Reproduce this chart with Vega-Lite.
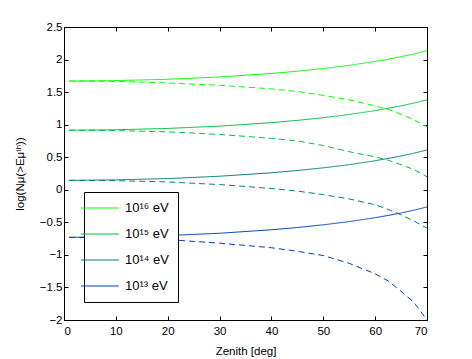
{
  "$schema": "https://vega.github.io/schema/vega-lite/v6.json",
  "width": 363,
  "height": 293,
  "autosize": {"type": "none"},
  "padding": {"left": 64, "top": 27, "right": 45, "bottom": 39},
  "background": "white",
  "config": {
    "view": {"stroke": null},
    "font": "Liberation Sans",
    "axis": {
      "grid": false,
      "domainColor": "black",
      "tickColor": "black",
      "labelColor": "black",
      "titleColor": "black",
      "labelFont": "Liberation Sans",
      "titleFont": "Liberation Sans",
      "labelFontSize": 11.5,
      "titleFontSize": 11.5,
      "titleFontWeight": "normal",
      "tickSize": -4,
      "labelPadding": 5
    }
  },
  "data": {
    "values": [
      {"z":1,"v":1.67,"e":"10¹⁶ eV","k":"s"},{"z":10,"v":1.677,"e":"10¹⁶ eV","k":"s"},{"z":20,"v":1.697,"e":"10¹⁶ eV","k":"s"},{"z":30,"v":1.733,"e":"10¹⁶ eV","k":"s"},{"z":40,"v":1.786,"e":"10¹⁶ eV","k":"s"},{"z":45,"v":1.821,"e":"10¹⁶ eV","k":"s"},{"z":50,"v":1.862,"e":"10¹⁶ eV","k":"s"},{"z":55,"v":1.911,"e":"10¹⁶ eV","k":"s"},{"z":60,"v":1.971,"e":"10¹⁶ eV","k":"s"},{"z":62.5,"v":2.004,"e":"10¹⁶ eV","k":"s"},{"z":65,"v":2.044,"e":"10¹⁶ eV","k":"s"},{"z":67.5,"v":2.087,"e":"10¹⁶ eV","k":"s"},{"z":70,"v":2.136,"e":"10¹⁶ eV","k":"s"},
      {"z":1,"v":1.67,"e":"10¹⁶ eV","k":"d"},{"z":10,"v":1.665,"e":"10¹⁶ eV","k":"d"},{"z":20,"v":1.64,"e":"10¹⁶ eV","k":"d"},{"z":30,"v":1.605,"e":"10¹⁶ eV","k":"d"},{"z":40,"v":1.55,"e":"10¹⁶ eV","k":"d"},{"z":45,"v":1.51,"e":"10¹⁶ eV","k":"d"},{"z":50,"v":1.45,"e":"10¹⁶ eV","k":"d"},{"z":55,"v":1.38,"e":"10¹⁶ eV","k":"d"},{"z":60,"v":1.29,"e":"10¹⁶ eV","k":"d"},{"z":62.5,"v":1.235,"e":"10¹⁶ eV","k":"d"},{"z":65,"v":1.16,"e":"10¹⁶ eV","k":"d"},{"z":67.5,"v":1.075,"e":"10¹⁶ eV","k":"d"},{"z":70,"v":0.97,"e":"10¹⁶ eV","k":"d"},
      {"z":1,"v":0.915,"e":"10¹⁵ eV","k":"s"},{"z":10,"v":0.922,"e":"10¹⁵ eV","k":"s"},{"z":20,"v":0.942,"e":"10¹⁵ eV","k":"s"},{"z":30,"v":0.978,"e":"10¹⁵ eV","k":"s"},{"z":40,"v":1.031,"e":"10¹⁵ eV","k":"s"},{"z":45,"v":1.066,"e":"10¹⁵ eV","k":"s"},{"z":50,"v":1.107,"e":"10¹⁵ eV","k":"s"},{"z":55,"v":1.156,"e":"10¹⁵ eV","k":"s"},{"z":60,"v":1.216,"e":"10¹⁵ eV","k":"s"},{"z":62.5,"v":1.251,"e":"10¹⁵ eV","k":"s"},{"z":65,"v":1.289,"e":"10¹⁵ eV","k":"s"},{"z":67.5,"v":1.332,"e":"10¹⁵ eV","k":"s"},{"z":70,"v":1.381,"e":"10¹⁵ eV","k":"s"},
      {"z":1,"v":0.915,"e":"10¹⁵ eV","k":"d"},{"z":10,"v":0.91,"e":"10¹⁵ eV","k":"d"},{"z":20,"v":0.89,"e":"10¹⁵ eV","k":"d"},{"z":30,"v":0.85,"e":"10¹⁵ eV","k":"d"},{"z":40,"v":0.79,"e":"10¹⁵ eV","k":"d"},{"z":45,"v":0.75,"e":"10¹⁵ eV","k":"d"},{"z":50,"v":0.68,"e":"10¹⁵ eV","k":"d"},{"z":55,"v":0.585,"e":"10¹⁵ eV","k":"d"},{"z":60,"v":0.505,"e":"10¹⁵ eV","k":"d"},{"z":62.5,"v":0.455,"e":"10¹⁵ eV","k":"d"},{"z":65,"v":0.385,"e":"10¹⁵ eV","k":"d"},{"z":67.5,"v":0.31,"e":"10¹⁵ eV","k":"d"},{"z":70,"v":0.2,"e":"10¹⁵ eV","k":"d"},
      {"z":1,"v":0.145,"e":"10¹⁴ eV","k":"s"},{"z":10,"v":0.152,"e":"10¹⁴ eV","k":"s"},{"z":20,"v":0.172,"e":"10¹⁴ eV","k":"s"},{"z":30,"v":0.208,"e":"10¹⁴ eV","k":"s"},{"z":40,"v":0.261,"e":"10¹⁴ eV","k":"s"},{"z":45,"v":0.296,"e":"10¹⁴ eV","k":"s"},{"z":50,"v":0.337,"e":"10¹⁴ eV","k":"s"},{"z":55,"v":0.386,"e":"10¹⁴ eV","k":"s"},{"z":60,"v":0.446,"e":"10¹⁴ eV","k":"s"},{"z":62.5,"v":0.481,"e":"10¹⁴ eV","k":"s"},{"z":65,"v":0.519,"e":"10¹⁴ eV","k":"s"},{"z":67.5,"v":0.562,"e":"10¹⁴ eV","k":"s"},{"z":70,"v":0.611,"e":"10¹⁴ eV","k":"s"},
      {"z":1,"v":0.145,"e":"10¹⁴ eV","k":"d"},{"z":10,"v":0.14,"e":"10¹⁴ eV","k":"d"},{"z":20,"v":0.12,"e":"10¹⁴ eV","k":"d"},{"z":30,"v":0.08,"e":"10¹⁴ eV","k":"d"},{"z":40,"v":0.02,"e":"10¹⁴ eV","k":"d"},{"z":45,"v":-0.02,"e":"10¹⁴ eV","k":"d"},{"z":50,"v":-0.075,"e":"10¹⁴ eV","k":"d"},{"z":55,"v":-0.14,"e":"10¹⁴ eV","k":"d"},{"z":60,"v":-0.23,"e":"10¹⁴ eV","k":"d"},{"z":62.5,"v":-0.3,"e":"10¹⁴ eV","k":"d"},{"z":65,"v":-0.385,"e":"10¹⁴ eV","k":"d"},{"z":67.5,"v":-0.48,"e":"10¹⁴ eV","k":"d"},{"z":70,"v":-0.59,"e":"10¹⁴ eV","k":"d"},
      {"z":1,"v":-0.73,"e":"10¹³ eV","k":"s"},{"z":10,"v":-0.723,"e":"10¹³ eV","k":"s"},{"z":20,"v":-0.703,"e":"10¹³ eV","k":"s"},{"z":30,"v":-0.668,"e":"10¹³ eV","k":"s"},{"z":40,"v":-0.614,"e":"10¹³ eV","k":"s"},{"z":45,"v":-0.58,"e":"10¹³ eV","k":"s"},{"z":50,"v":-0.538,"e":"10¹³ eV","k":"s"},{"z":55,"v":-0.489,"e":"10¹³ eV","k":"s"},{"z":60,"v":-0.429,"e":"10¹³ eV","k":"s"},{"z":62.5,"v":-0.394,"e":"10¹³ eV","k":"s"},{"z":65,"v":-0.356,"e":"10¹³ eV","k":"s"},{"z":67.5,"v":-0.313,"e":"10¹³ eV","k":"s"},{"z":70,"v":-0.264,"e":"10¹³ eV","k":"s"},
      {"z":1,"v":-0.73,"e":"10¹³ eV","k":"d"},{"z":10,"v":-0.74,"e":"10¹³ eV","k":"d"},{"z":20,"v":-0.765,"e":"10¹³ eV","k":"d"},{"z":30,"v":-0.82,"e":"10¹³ eV","k":"d"},{"z":40,"v":-0.89,"e":"10¹³ eV","k":"d"},{"z":45,"v":-0.945,"e":"10¹³ eV","k":"d"},{"z":50,"v":-1.01,"e":"10¹³ eV","k":"d"},{"z":55,"v":-1.13,"e":"10¹³ eV","k":"d"},{"z":60,"v":-1.29,"e":"10¹³ eV","k":"d"},{"z":62.5,"v":-1.4,"e":"10¹³ eV","k":"d"},{"z":65,"v":-1.56,"e":"10¹³ eV","k":"d"},{"z":67.5,"v":-1.73,"e":"10¹³ eV","k":"d"},{"z":70,"v":-2.0,"e":"10¹³ eV","k":"d"}
    ]
  },
  "layer": [
    {
      "mark": {"type": "line", "strokeWidth": 1, "clip": true},
      "encoding": {
        "x": {"field": "z", "type": "quantitative", "scale": {"domain": [0, 70], "nice": false},
              "axis": {"orient": "bottom", "title": "Zenith [deg]", "values": [0,10,20,30,40,50,60,70], "labelPadding": 9, "titlePadding": 9}},
        "y": {"field": "v", "type": "quantitative", "scale": {"domain": [-2, 2.5], "nice": false, "zero": false},
              "axis": {"orient": "left", "title": "log(Nμ(>Eμᵗʰ))", "values": [-2,-1.5,-1,-0.5,0,0.5,1,1.5,2,2.5], "format": "~g", "labelPadding": 6, "titlePadding": 14}},
        "color": {"field": "e", "type": "nominal",
                  "scale": {"domain": ["10¹⁶ eV","10¹⁵ eV","10¹⁴ eV","10¹³ eV"], "range": ["#00ff00","#00c040","#008080","#0040c0"]},
                  "legend": {"title": null, "orient": "none", "legendX": 20, "legendY": 165,
                             "symbolType": "M-2.9,0H2.9", "symbolSize": 169, "symbolStrokeWidth": 1,
                             "labelFontSize": 13, "labelFont": "Liberation Sans", "labelColor": "black",
                             "strokeColor": "black", "fillColor": "white", "padding": 9, "rowPadding": 12, "labelOffset": 18}},
        "strokeDash": {"field": "k", "type": "nominal",
                       "scale": {"domain": ["s","d"], "range": [[1,0],[6,4]]}, "legend": null}
      }
    },
    {
      "mark": {"type": "line", "opacity": 0},
      "encoding": {
        "x": {"field": "z", "type": "quantitative",
              "axis": {"orient": "top", "title": null, "labels": false, "values": [0,10,20,30,40,50,60,70]}},
        "y": {"field": "v", "type": "quantitative",
              "axis": {"orient": "right", "title": null, "labels": false, "values": [-2,-1.5,-1,-0.5,0,0.5,1,1.5,2,2.5]}},
        "detail": {"field": "e"}
      }
    }
  ],
  "resolve": {"axis": {"x": "independent", "y": "independent"}}
}
